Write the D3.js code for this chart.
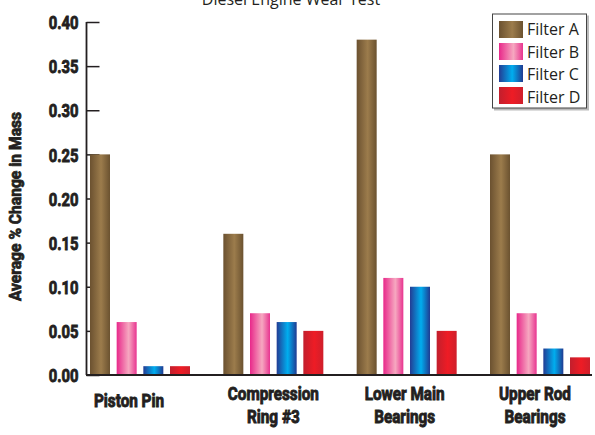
<!DOCTYPE html>
<html>
<head>
<meta charset="utf-8">
<script src="https://cdn.jsdelivr.net/npm/d3@7/dist/d3.min.js"></script>
<style>
  html, body { margin: 0; padding: 0; background: #fff; }
  svg { display: block; }
  .cond { font-family: Roboto, "Liberation Sans", sans-serif; font-weight: bold; fill: #231f20; }
  .plain { font-family: "Open Sans", "Noto Sans", sans-serif; fill: #231f20; }
</style>
</head>
<body>
<svg id="chart" width="595" height="435"></svg>
<script>
// Wear test results: average % change in mass per engine component
const components = ["Piston Pin", "Compression\nRing #3", "Lower Main\nBearings", "Upper Rod\nBearings"];
const filters = ["Filter A", "Filter B", "Filter C", "Filter D"];
const filterA = [0.25, 0.16, 0.38, 0.25];
const filterB = [0.06, 0.07, 0.11, 0.07];
const filterC = [0.01, 0.06, 0.10, 0.03];
const filterD = [0.01, 0.05, 0.05, 0.02];
const yTicks = [0, 0.05, 0.10, 0.15, 0.20, 0.25, 0.30, 0.35, 0.40];

const series = [filterA, filterB, filterC, filterD];

// Cylinder-like shading for each filter: [offset, colour]
const shades = [
  [[0, "#6b5130"], [0.55, "#9c7c4c"], [1, "#6b5230"]],
  [[0, "#e8288a"], [0.6, "#f6a8c0"], [1, "#e83490"]],
  [[0, "#233c94"], [0.55, "#00aeef"], [1, "#1f3b92"]],
  [[0, "#c21f2d"], [0.55, "#ee1c25"], [1, "#cf1f2b"]]
];

const svg = d3.select("#chart");
const axisColor = "#231f20";

const defs = svg.append("defs");
shades.forEach((stops, i) => {
  const g = defs.append("linearGradient").attr("id", "shade" + i)
    .attr("x1", "0%").attr("x2", "100%").attr("y1", "0%").attr("y2", "0%");
  stops.forEach(s => g.append("stop").attr("offset", s[0]).attr("stop-color", s[1]));
});

const x0 = d3.scaleBand().domain(components).range([90, 590]).paddingInner(0.25).paddingOuter(0);
const x1 = d3.scaleBand().domain(filters).range([0, x0.bandwidth()]).paddingInner(0.25);
const y = d3.scaleLinear().domain([0, 0.4]).range([375, 22]);

// Title (runs off the top edge)
svg.append("text").attr("class", "plain")
  .attr("x", 291).attr("y", 5).attr("text-anchor", "middle")
  .attr("font-size", 16).attr("fill", "#333")
  .text("Diesel Engine Wear Test");

// Y axis with inward ticks
const yAxis = d3.axisRight(y).tickValues(yTicks).tickSize(13).tickFormat(d3.format(".2f"));
const yg = svg.append("g").attr("transform", "translate(86.5,0)").call(yAxis);
yg.select(".domain").remove();
yg.selectAll(".tick line").attr("stroke", axisColor).attr("stroke-width", 1.5);
yg.selectAll(".tick text")
  .attr("class", "cond").attr("x", 0).attr("dy", "0.36em")
  .attr("transform", "translate(-8,0) scale(0.8,1)")
  .attr("text-anchor", "end").attr("font-size", 18.5)
  .attr("stroke", axisColor).attr("stroke-width", 0.9);

// Bars
const groups = svg.append("g").selectAll("g").data(components).join("g")
  .attr("transform", d => `translate(${x0(d)},0)`);
groups.selectAll("rect")
  .data((d, ci) => filters.map((f, fi) => ({ f, fi, v: series[fi][ci] })))
  .join("rect")
  .attr("x", d => x1(d.f))
  .attr("width", x1.bandwidth())
  .attr("y", d => y(d.v))
  .attr("height", d => y(0) - y(d.v))
  .attr("fill", d => `url(#shade${d.fi})`);

// Axis lines
svg.append("line").attr("x1", 86.5).attr("x2", 86.5).attr("y1", y(0.4)).attr("y2", y(0))
  .attr("stroke", axisColor).attr("stroke-width", 1.8);
svg.append("line").attr("x1", 86).attr("x2", 592).attr("y1", y(0)).attr("y2", y(0))
  .attr("stroke", axisColor).attr("stroke-width", 1.8);

// Category labels
const labelShift = [-11, 0, -2, -5];
components.forEach((c, i) => {
  const lines = c.split("\n");
  const cx = x0(c) + x0.bandwidth() / 2 + labelShift[i];
  const t = svg.append("text").attr("class", "cond")
    .attr("transform", `translate(${cx},0) scale(0.85,1)`)
    .attr("text-anchor", "middle").attr("font-size", 18)
    .attr("stroke", axisColor).attr("stroke-width", 0.9);
  const base = lines.length === 1 ? 407 : 400;
  lines.forEach((ln, k) => {
    t.append("tspan").attr("x", 0).attr("y", base + k * 23).text(ln);
  });
});

// Y axis title
svg.append("text").attr("class", "cond")
  .attr("transform", "translate(21,206.5) rotate(-90) scale(0.92,1)")
  .attr("text-anchor", "middle").attr("font-size", 17)
  .attr("stroke", axisColor).attr("stroke-width", 0.8)
  .text("Average % Change in Mass");

// Legend
const lg = svg.append("g");
lg.append("rect").attr("x", 494).attr("y", 15.5).attr("width", 95).attr("height", 95)
  .attr("fill", "#bbb");
lg.append("rect").attr("x", 492.5).attr("y", 14).attr("width", 94).attr("height", 94)
  .attr("fill", "#fff").attr("stroke", "#444").attr("stroke-width", 1);
filters.forEach((f, i) => {
  lg.append("rect").attr("x", 499).attr("y", 21 + i * 22).attr("width", 24).attr("height", 17)
    .attr("fill", `url(#shade${i})`);
  lg.append("text").attr("class", "plain")
    .attr("x", 527).attr("y", 35 + i * 22.5).attr("font-size", 16)
    .text(f);
});
</script>
</body>
</html>
